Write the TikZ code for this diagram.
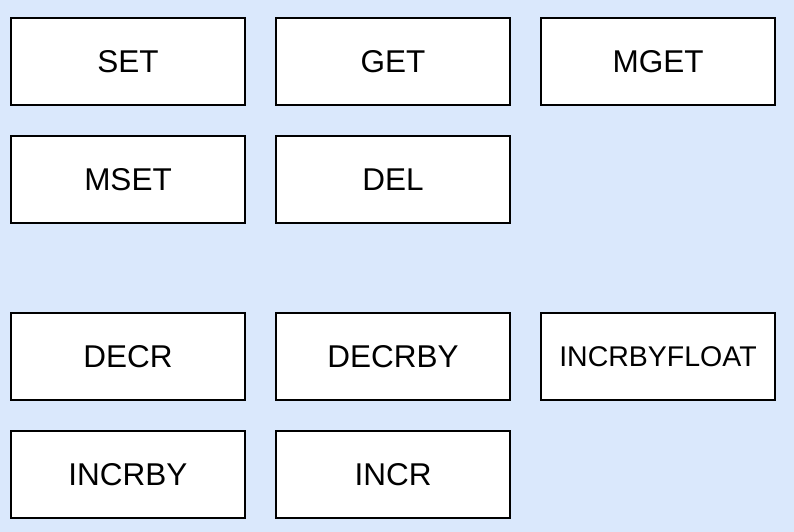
\documentclass[tikz,border=0pt]{standalone}
\usepackage{fontspec}
\setmainfont{Liberation Sans}
\definecolor{bgblue}{HTML}{DAE8FC}
\begin{document}
\begin{tikzpicture}[x=1pt,y=1pt,
  cmdbox/.style={draw=black,fill=white,line width=2.4pt,minimum width=234pt,minimum height=87pt,inner sep=0pt,font=\fontsize{31.5}{36}\selectfont}]
\fill[bgblue] (0,0) rectangle (794,532);
\useasboundingbox (0,0) rectangle (794,532);
\node[cmdbox] (set) at (128,470.5) {SET};
\node[cmdbox] (get) at (393,470.5) {GET};
\node[cmdbox] (mget) at (658,470.5) {MGET};
\node[cmdbox] (mset) at (128,352.5) {MSET};
\node[cmdbox] (del) at (393,352.5) {DEL};
\node[cmdbox] (decr) at (128,175.5) {DECR};
\node[cmdbox] (decrby) at (393,175.5) {DECRBY};
\node[cmdbox,font=\fontsize{28.5}{34}\selectfont] (incrbyfloat) at (658,175.5) {INCRBYFLOAT};
\node[cmdbox] (incrby) at (128,57.5) {INCRBY};
\node[cmdbox] (incr) at (393,57.5) {INCR};
\end{tikzpicture}
\end{document}
